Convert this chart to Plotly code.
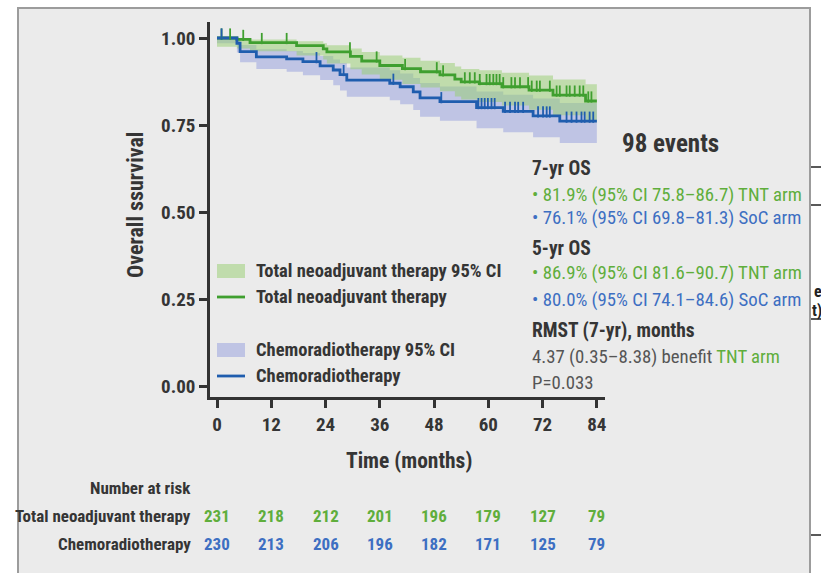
import numpy as np
import plotly.graph_objects as go

# ---- Kaplan-Meier estimates: Total neoadjuvant therapy (TNT) ----
tnt_time = [0, 4.4, 7.3, 17.6, 23.5, 24.3, 29.5, 32.0, 36.0, 41.0, 45.0, 49.3,
            52.6, 54.0, 58.0, 63.0, 69.0, 74.3, 81.5]
tnt_surv = [1.000, 0.996, 0.987, 0.978, 0.969, 0.960, 0.947, 0.934, 0.921, 0.912,
            0.903, 0.894, 0.882, 0.874, 0.869, 0.860, 0.850, 0.836, 0.819]
tnt_lo = [0.975, 0.970, 0.962, 0.950, 0.938, 0.927, 0.910, 0.895, 0.880, 0.868,
          0.858, 0.847, 0.832, 0.823, 0.816, 0.806, 0.794, 0.778, 0.758]
tnt_hi = [1.000, 1.000, 0.996, 0.991, 0.985, 0.979, 0.970, 0.960, 0.950, 0.943,
          0.935, 0.928, 0.918, 0.911, 0.907, 0.900, 0.892, 0.881, 0.867]
tnt_censor = [1.0, 2.9, 5.8, 9.9, 15.4, 29.4, 35.3, 41.6, 48.6, 50.0, 54.8, 55.9,
              57.0, 58.1, 59.6, 60.3, 61.1, 61.8, 62.5, 63.3, 65.1, 65.9, 67.0,
              68.8, 69.6, 70.7, 71.4, 73.6, 75.1, 75.8, 77.3, 78.0, 79.1, 80.2,
              81.0, 82.1, 82.8]

# ---- Kaplan-Meier estimates: Chemoradiotherapy (SoC) ----
crt_time = [0, 4.4, 5.1, 8.7, 15.4, 19.0, 22.8, 25.7, 27.2, 28.7, 38.2, 40.5,
            43.4, 44.9, 49.3, 57.4, 63.3, 69.9, 75.8]
crt_surv = [1.000, 0.985, 0.961, 0.946, 0.940, 0.932, 0.920, 0.908, 0.895, 0.879,
            0.870, 0.860, 0.845, 0.828, 0.817, 0.800, 0.789, 0.776, 0.761]
crt_lo = [0.985, 0.958, 0.930, 0.911, 0.903, 0.893, 0.879, 0.864, 0.849, 0.831,
          0.821, 0.810, 0.793, 0.774, 0.762, 0.741, 0.729, 0.715, 0.698]
crt_hi = [1.000, 0.996, 0.980, 0.968, 0.963, 0.957, 0.948, 0.938, 0.928, 0.915,
          0.907, 0.898, 0.885, 0.871, 0.861, 0.846, 0.837, 0.826, 0.813]
crt_censor = [1.0, 22.0, 28.0, 39.0, 49.6, 57.8, 58.5, 59.2, 59.9, 60.7, 61.4,
              63.7, 64.8, 65.9, 66.6, 67.7, 71.0, 72.1, 72.9, 73.6, 77.3, 78.4,
              79.5, 80.6, 81.3, 82.4, 83.2]

# ---- Number at risk ----
risk_months = [0, 12, 24, 36, 48, 60, 72, 84]
risk_tnt = [231, 218, 212, 201, 196, 179, 127, 79]
risk_crt = [230, 213, 206, 196, 182, 171, 125, 79]

X_END = 84

FONT = "Roboto Condensed, Liberation Sans Narrow, DejaVu Sans Condensed, Roboto, sans-serif"
DARK = "#353535"
TNT_LINE = "#3f9f2f"
CRT_LINE = "#1f5dae"
TNT_BAND = "rgba(150,205,110,0.50)"
CRT_BAND = "rgba(165,172,225,0.62)"
TNT_TXT = "#5fae3c"
CRT_TXT = "#3d6fc2"

W, H = 821, 573
PL, PR, PT, PB = 210, 605, 22, 397  # plot area in pixels


def px_x(x):
    return (x - PL) / (PR - PL)


def px_y(y):
    return (PB - y) / (PB - PT)


def extend(t, v):
    return list(t) + [X_END], list(v) + [v[-1]]


def step_at(times, vals, t):
    idx = np.searchsorted(np.asarray(times), np.asarray(t), side="right") - 1
    return np.asarray(vals)[idx]


fig = go.Figure()

# confidence bands (SoC under TNT)
for t, lo, hi, band in [
    (crt_time, crt_lo, crt_hi, CRT_BAND),
    (tnt_time, tnt_lo, tnt_hi, TNT_BAND),
]:
    xl, yl = extend(t, lo)
    xh, yh = extend(t, hi)
    fig.add_trace(go.Scatter(x=xl, y=yl, mode="lines", line=dict(width=0, shape="hv"),
                             showlegend=False, hoverinfo="skip"))
    fig.add_trace(go.Scatter(x=xh, y=yh, mode="lines", line=dict(width=0, shape="hv"),
                             fill="tonexty", fillcolor=band, showlegend=False, hoverinfo="skip"))

# survival curves
for t, s, col in [
    (tnt_time, tnt_surv, TNT_LINE),
    (crt_time, crt_surv, CRT_LINE),
]:
    xs, ys = extend(t, s)
    fig.add_trace(go.Scatter(x=xs, y=ys, mode="lines", showlegend=False,
                             line=dict(color=col, width=2.8, shape="hv")))

# censoring ticks, drawn just above the curve
tick_lift = 4 / (PB - PT) * (1.046 + 0.0316)
for cens, t, s, col in [
    (tnt_censor, tnt_time, tnt_surv, TNT_LINE),
    (crt_censor, crt_time, crt_surv, CRT_LINE),
]:
    yc = step_at(t, s, cens) + tick_lift
    fig.add_trace(go.Scatter(x=cens, y=yc, mode="markers", showlegend=False,
                             marker=dict(symbol="line-ns", size=8,
                                         line=dict(color=col, width=1.8))))

ann = []
shapes = [
    dict(type="rect", xref="paper", yref="paper", x0=px_x(18), x1=px_x(810), y0=px_y(590),
         y1=px_y(8), fillcolor="#ebebeb", line=dict(color="#9c9c9c", width=2), layer="below"),
]


def text(t, x, y, size, color=DARK, xanchor="center", xref="paper", **kw):
    ann.append(dict(text=t, x=x if xref != "paper" else px_x(x), y=px_y(y), xref=xref,
                    yref="paper", xanchor=xanchor, yanchor="middle", showarrow=False,
                    font=dict(size=size, color=color), **kw))


# axis titles
text("<b>Overall ssurvival</b>", 135, 205, 22, textangle=-90)
text("<b>Time (months)</b>", 409, 460, 21.5)

# legend drawn inside the plot area
legend_rows = [
    ("<b>Total neoadjuvant therapy 95% CI</b>", 271, "band", TNT_BAND),
    ("<b>Total neoadjuvant therapy</b>", 297, "line", TNT_LINE),
    ("<b>Chemoradiotherapy 95% CI</b>", 350, "band", CRT_BAND),
    ("<b>Chemoradiotherapy</b>", 376, "line", CRT_LINE),
]
for label, yy, kind, col in legend_rows:
    if kind == "band":
        shapes.append(dict(type="rect", xref="paper", yref="paper", x0=px_x(217), x1=px_x(245),
                           y0=px_y(yy + 7), y1=px_y(yy - 7), fillcolor=col, line=dict(width=0)))
    else:
        shapes.append(dict(type="line", xref="paper", yref="paper", x0=px_x(217), x1=px_x(245),
                           y0=px_y(yy), y1=px_y(yy), line=dict(color=col, width=2.8)))
    text(label, 254, yy, 18.5, xanchor="left")

# statistics block on the right
text("<b>98 events</b>", 670, 143, 25)
stat_lines = [
    ("<b>7-yr OS</b>", 168, DARK, 19.5),
    ("• 81.9% (95% CI 75.8\u201386.7) TNT arm", 195, TNT_TXT, 18.8),
    ("• 76.1% (95% CI 69.8\u201381.3) SoC arm", 218, CRT_TXT, 18.8),
    ("<b>5-yr OS</b>", 248, DARK, 19.5),
    ("• 86.9% (95% CI 81.6\u201390.7) TNT arm", 273, TNT_TXT, 18.8),
    ("• 80.0% (95% CI 74.1\u201384.6) SoC arm", 300, CRT_TXT, 18.8),
    ("<b>RMST (7-yr), months</b>", 330, DARK, 19.5),
    (f"4.37 (0.35\u20138.38) benefit <span style='color:{TNT_TXT}'>TNT arm</span>", 357, "#555555", 18.8),
    ("P=0.033", 383, "#555555", 18.8),
]
for txt, yy, col, sz in stat_lines:
    text(txt, 530, yy, sz, color=col, xanchor="left")

# number-at-risk table
text("<b>Number at risk</b>", 193, 488, 17, xanchor="right")
text("<b>Total neoadjuvant therapy</b>", 193, 516, 17, xanchor="right")
text("<b>Chemoradiotherapy</b>", 193, 544, 17, xanchor="right")
for m, a, b in zip(risk_months, risk_tnt, risk_crt):
    text(f"<b>{a}</b>", m, 516, 17, color=TNT_TXT, xref="x")
    text(f"<b>{b}</b>", m, 544, 17, color=CRT_TXT, xref="x")

# fragments of the neighbouring panel at the right edge
text("<b>e</b>", 812, 291, 16, color="#222", xanchor="left")
text("<b>t)</b>", 810, 310, 16, color="#222", xanchor="left")
for yy in [167, 205, 319, 535]:
    shapes.append(dict(type="line", xref="paper", yref="paper", x0=px_x(811), x1=px_x(822),
                       y0=px_y(yy), y1=px_y(yy), line=dict(color="#222", width=1.5)))

fig.update_layout(
    width=W, height=H,
    margin=dict(l=PL, r=W - PR, t=PT, b=H - PB),
    paper_bgcolor="white", plot_bgcolor="rgba(0,0,0,0)",
    font=dict(family=FONT, color=DARK),
    showlegend=False,
    annotations=ann,
    shapes=shapes,
    xaxis=dict(range=[-1.55, 85.8], tickvals=risk_months, showgrid=False, zeroline=False,
               showline=True, linecolor="#333", linewidth=2.5, ticks="outside", ticklen=8,
               tickwidth=2.5, tickcolor="#333",
               tickfont=dict(size=19, color=DARK, weight="bold")),
    yaxis=dict(range=[-0.0316, 1.046], tickvals=[0, 0.25, 0.5, 0.75, 1.0],
               ticktext=["0.00", "0.25", "0.50", "0.75", "1.00"], showgrid=False, zeroline=False,
               showline=True, linecolor="#333", linewidth=2.5, ticks="outside", ticklen=8,
               tickwidth=2.5, tickcolor="#333",
               tickfont=dict(size=19, color=DARK, weight="bold")),
)

fig.write_html("out.html")
